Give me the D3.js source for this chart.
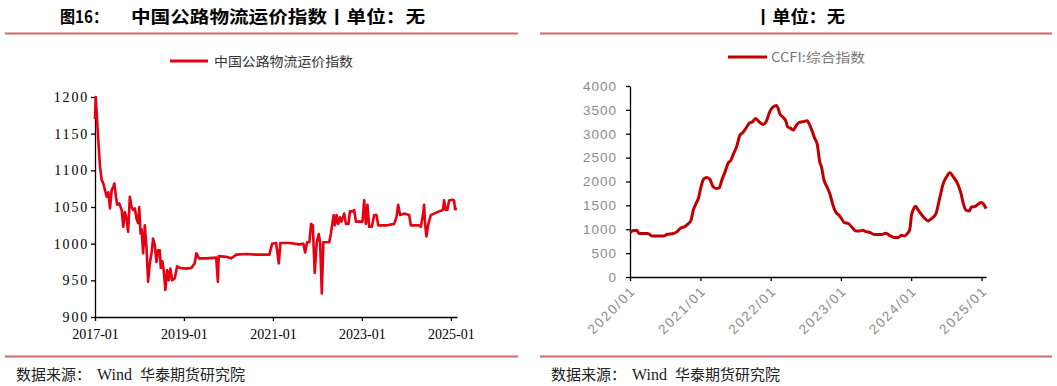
<!DOCTYPE html>
<html lang="zh">
<head>
<meta charset="UTF-8">
<title>中国公路物流运价指数 / CCFI</title>
<script src="https://cdn.jsdelivr.net/npm/d3@7"></script>
<style>
  body, html {margin: 0; padding: 0; background: #fff;}
  svg {display: block;}
  .titulo {font-family: "Noto Sans CJK SC", sans-serif; font-weight: 700; font-size: 17px; fill: #000;}
  .fuente {font-family: "Noto Sans CJK SC", sans-serif; font-size: 15px; fill: #222;}
  .leyenda {font-family: "Noto Sans CJK SC", sans-serif; font-size: 13px;}
  .ejeIzq text {font-family: "Liberation Serif", "Times New Roman", serif; font-size: 14px; fill: #000;}
  .ejeDer text {font-family: "Liberation Sans", Arial, sans-serif; font-size: 13.5px; fill: #8a8a8a;}
  .domain, .tick line {stroke: #000; stroke-width: 1.3;}
</style>
</head>
<body>
<div class="marco"></div>
<script>
// 中国公路物流运价指数 (weekly)
const roadDates = [
  "2017-01-01","2017-01-07","2017-01-28","2017-02-11","2017-02-25","2017-03-10","2017-03-24","2017-04-07",
  "2017-04-21","2017-05-04","2017-05-18","2017-06-01","2017-06-09","2017-06-22","2017-07-02","2017-07-19",
  "2017-08-08","2017-08-21","2017-09-03","2017-09-17","2017-09-30","2017-10-14","2017-10-28","2017-11-10",
  "2017-11-24","2017-12-08","2017-12-21","2017-12-30","2018-01-10","2018-01-18","2018-01-31","2018-02-14",
  "2018-02-28","2018-03-13","2018-03-27","2018-04-10","2018-04-23","2018-05-07","2018-05-21","2018-06-03",
  "2018-06-17","2018-06-25","2018-07-08","2018-07-19","2018-08-02","2018-08-16","2018-08-29","2018-09-12",
  "2018-09-26","2018-10-18","2018-11-06","2018-11-28","2019-01-21","2019-03-03","2019-03-30","2019-04-13",
  "2019-05-05","2019-07-03","2019-09-23","2019-10-07","2019-10-14","2019-12-14","2020-01-24","2020-03-06",
  "2020-05-27","2020-08-16","2020-12-03","2020-12-25","2021-01-27","2021-02-18","2021-03-03","2021-05-16",
  "2021-08-06","2021-09-08","2021-09-22","2021-10-08","2021-10-27","2021-11-10","2021-11-24","2021-12-10",
  "2021-12-27","2022-01-12","2022-01-23","2022-02-06","2022-02-19","2022-04-08","2022-04-22","2022-05-14",
  "2022-05-25","2022-06-07","2022-06-21","2022-07-05","2022-07-18","2022-08-09","2022-08-23","2022-09-13",
  "2022-09-25","2022-10-16","2022-10-30","2022-11-13","2022-12-10","2023-01-06","2023-01-20","2023-02-03",
  "2023-02-16","2023-03-02","2023-03-24","2023-04-12","2023-05-01","2023-05-15","2023-06-19","2023-07-30",
  "2023-09-23","2023-10-12","2023-10-26","2023-11-11","2023-12-14","2024-01-24","2024-02-07","2024-04-15",
  "2024-04-29","2024-05-18","2024-05-26","2024-06-03","2024-06-14","2024-06-30","2024-07-20","2024-08-16",
  "2024-09-12","2024-10-10","2024-10-28","2024-11-06","2024-11-20","2024-12-03","2024-12-17","2025-01-13",
  "2025-01-27","2025-02-04","2025-02-20"
];
const roadValues = [
  1170,1200,1141,1105,1087,1082,1073,1064,
  1070,1048,1073,1078,1082,1064,1053,1055,
  1046,1023,1043,1034,1016,1064,1050,1046,
  1048,1034,1028,1050,1014,1020,987,1025,
  994,948,973,987,1007,998,975,991,
  991,967,976,964,937,964,950,966,
  950,953,969,967,966,967,973,987,
  980,980,981,948,983,982,980,985,
  986,985,985,1000,1001,973,1001,1001,
  999,1000,988,1002,1002,1027,1025,960,
  1002,1013,1002,932,1002,1002,1014,1039,
  1025,1039,1027,1036,1030,1041,1027,1027,
  1044,1044,1046,1030,1030,1030,1059,1027,
  1053,1023,1023,1039,1039,1025,1025,1025,
  1027,1036,1053,1039,1041,1039,1025,1025,
  1023,1041,1053,1027,1010,1027,1039,1041,
  1043,1045,1046,1059,1046,1046,1059,1060,
  1059,1047,1048
];
const roadYTicks = [900, 950, 1000, 1050, 1100, 1150, 1200];
const roadXTicks = ["2017-01", "2019-01", "2021-01", "2023-01", "2025-01"];

// CCFI:综合指数 (weekly)
const ccfiDates = [
  "2020-01-03","2020-01-17","2020-02-07","2020-02-14","2020-02-21","2020-04-03","2020-04-24","2020-06-24",
  "2020-07-10","2020-08-14","2020-08-31","2020-09-17","2020-10-14","2020-10-31","2020-11-13","2020-11-25",
  "2020-12-09","2020-12-21","2021-01-04","2021-01-16","2021-02-02","2021-02-20","2021-03-06","2021-03-23",
  "2021-04-09","2021-04-22","2021-05-09","2021-05-26","2021-06-09","2021-06-21","2021-07-08","2021-07-25",
  "2021-08-08","2021-08-25","2021-09-11","2021-09-29","2021-10-16","2021-11-02","2021-11-23","2021-12-10",
  "2021-12-27","2022-01-14","2022-01-31","2022-02-08","2022-02-18","2022-03-07","2022-03-21","2022-03-30",
  "2022-04-15","2022-04-29","2022-05-12","2022-05-29","2022-06-16","2022-07-10","2022-07-23","2022-08-06",
  "2022-08-18","2022-08-31","2022-09-13","2022-09-22","2022-10-05","2022-10-19","2022-11-04","2022-11-21",
  "2022-12-05","2022-12-22","2023-01-04","2023-01-18","2023-02-08","2023-02-26","2023-03-20","2023-04-10",
  "2023-04-24","2023-05-11","2023-06-01","2023-06-27","2023-07-31","2023-08-23","2023-09-12","2023-10-08",
  "2023-10-25","2023-11-11","2023-11-28","2023-12-12","2023-12-24","2024-01-03","2024-01-11","2024-01-24",
  "2024-02-07","2024-02-24","2024-03-12","2024-03-29","2024-04-16","2024-05-09","2024-05-26","2024-06-16",
  "2024-07-03","2024-07-20","2024-08-07","2024-09-02","2024-09-16","2024-09-28","2024-10-12","2024-10-29",
  "2024-11-10","2024-11-28","2024-12-14","2025-01-01","2025-01-13","2025-01-24"
];
const ccfiValues = [
  930,975,975,923,910,910,860,860,
  889,910,944,1014,1063,1119,1189,1399,
  1539,1644,1887,2043,2085,2043,1902,1854,
  1868,2028,2202,2391,2447,2573,2726,2971,
  3020,3112,3217,3250,3322,3250,3196,3265,
  3460,3565,3594,3540,3412,3343,3265,3146,
  3112,3076,3160,3237,3250,3271,3181,3041,
  2902,2780,2412,2307,2028,1902,1749,1504,
  1363,1294,1225,1141,1120,1049,965,965,
  979,951,931,889,889,916,868,826,
  826,874,860,910,979,1294,1399,1483,
  1399,1308,1225,1175,1225,1329,1608,1958,
  2097,2181,2097,1923,1749,1539,1399,1384,
  1468,1476,1525,1560,1518,1434
];
const ccfiYTicks = [0, 500, 1000, 1500, 2000, 2500, 3000, 3500, 4000];
const ccfiXTicks = ["2020/01", "2021/01", "2022/01", "2023/01", "2024/01", "2025/01"];

const parseDia = d3.timeParse("%Y-%m-%d");

const svg = d3.select(".marco").append("svg")
  .attr("width", 1057)
  .attr("height", 386);

// ---- titulos y lineas separadoras ----
svg.append("text").attr("class", "titulo")
  .attr("x", 60).attr("y", 23)
  .attr("textLength", 48).attr("lengthAdjust", "spacingAndGlyphs")
  .text("图16：");
svg.append("text").attr("class", "titulo")
  .attr("x", 131).attr("y", 23)
  .attr("textLength", 294).attr("lengthAdjust", "spacingAndGlyphs")
  .text("中国公路物流运价指数丨单位：无");
svg.append("text").attr("class", "titulo")
  .attr("x", 754).attr("y", 23)
  .attr("textLength", 91).attr("lengthAdjust", "spacingAndGlyphs")
  .text("丨单位：无");

[[5, 518], [540, 1052]].forEach(([a, b]) => {
  svg.append("line").attr("x1", a).attr("x2", b).attr("y1", 33.5).attr("y2", 33.5)
    .attr("stroke", "#cd6b6b").attr("stroke-width", 2);
  svg.append("line").attr("x1", a).attr("x2", b).attr("y1", 356.5).attr("y2", 356.5)
    .attr("stroke", "#cd6b6b").attr("stroke-width", 2);
});

// fuente
[16, 551].forEach(x0 => {
  const t = svg.append("text").attr("class", "fuente").attr("x", x0).attr("y", 380);
  t.append("tspan").text("数据来源：");
  t.append("tspan").attr("dx", 6).style("font-family", "'Liberation Serif', serif").style("font-size", "16px").text("Wind");
  t.append("tspan").attr("dx", 8).text("华泰期货研究院");
});

// ---- grafico izquierdo ----
const x1 = d3.scaleTime()
  .domain([parseDia("2017-01-01"), parseDia("2025-02-20")])
  .range([95, 457]);
const y1 = d3.scaleLinear().domain([900, 1200]).range([317, 97]);

const parseMes = d3.timeParse("%Y-%m");

svg.append("g").attr("class", "ejeIzq")
  .attr("transform", "translate(95,0)")
  .call(d3.axisLeft(y1).tickValues(roadYTicks).tickFormat(d3.format("d"))
    .tickSize(4).tickSizeOuter(0).tickPadding(2))
  .selectAll("text").style("letter-spacing", "1.8px");

svg.append("g").attr("class", "ejeIzq")
  .attr("transform", "translate(0,317)")
  .call(d3.axisBottom(x1)
    .tickValues(roadXTicks.map(parseMes))
    .tickFormat((d, i) => roadXTicks[i])
    .tickSize(4).tickSizeOuter(0).tickPadding(8));

const road = roadDates.map((d, i) => ({fecha: parseDia(d), valor: roadValues[i]}));
svg.append("path")
  .datum(road)
  .attr("fill", "none")
  .attr("stroke", "#e60012")
  .attr("stroke-width", 2.6)
  .attr("stroke-linejoin", "round")
  .attr("d", d3.line().x(d => x1(d.fecha)).y(d => y1(d.valor)));

// leyenda izquierda
svg.append("line").attr("x1", 170).attr("x2", 208).attr("y1", 61).attr("y2", 61)
  .attr("stroke", "#e60012").attr("stroke-width", 3);
svg.append("text").attr("class", "leyenda").attr("x", 214).attr("y", 66)
  .attr("fill", "#333")
  .attr("textLength", 139).attr("lengthAdjust", "spacingAndGlyphs")
  .text("中国公路物流运价指数");

// ---- grafico derecho ----
const x2 = d3.scaleTime()
  .domain([parseDia("2020-01-01"), parseDia("2025-01-24")])
  .range([630, 986]);
const y2 = d3.scaleLinear().domain([0, 4000]).range([277, 86]);

const parseMes2 = d3.timeParse("%Y/%m");

svg.append("g").attr("class", "ejeDer")
  .attr("transform", "translate(630,0)")
  .call(d3.axisLeft(y2).tickValues(ccfiYTicks).tickFormat(d3.format("d")).tickSize(4).tickSizeOuter(0).tickPadding(9))
  .selectAll("text").style("letter-spacing", "1px");

svg.append("g").attr("class", "ejeDer")
  .attr("transform", "translate(0,277)")
  .call(d3.axisBottom(x2)
    .tickValues(ccfiXTicks.map(parseMes2))
    .tickFormat((d, i) => ccfiXTicks[i])
    .tickSize(4).tickSizeOuter(0))
  .selectAll("text")
    .attr("transform", "rotate(-45)")
    .attr("x", -6).attr("y", 10).attr("dy", "0.35em")
    .style("text-anchor", "end")
    .style("letter-spacing", "1.8px");

const ccfi = ccfiDates.map((d, i) => ({fecha: parseDia(d), valor: ccfiValues[i]}));
svg.append("path")
  .datum(ccfi)
  .attr("fill", "none")
  .attr("stroke", "#c00000")
  .attr("stroke-width", 3)
  .attr("stroke-linejoin", "round")
  .attr("d", d3.line().curve(d3.curveMonotoneX).x(d => x2(d.fecha)).y(d => y2(d.valor)));

// leyenda derecha
svg.append("line").attr("x1", 728).attr("x2", 767).attr("y1", 57).attr("y2", 57)
  .attr("stroke", "#c00000").attr("stroke-width", 3);
svg.append("text").attr("class", "leyenda").attr("x", 771).attr("y", 62)
  .attr("fill", "#777")
  .attr("textLength", 94).attr("lengthAdjust", "spacingAndGlyphs")
  .text("CCFI:综合指数");
</script>
</body>
</html>
